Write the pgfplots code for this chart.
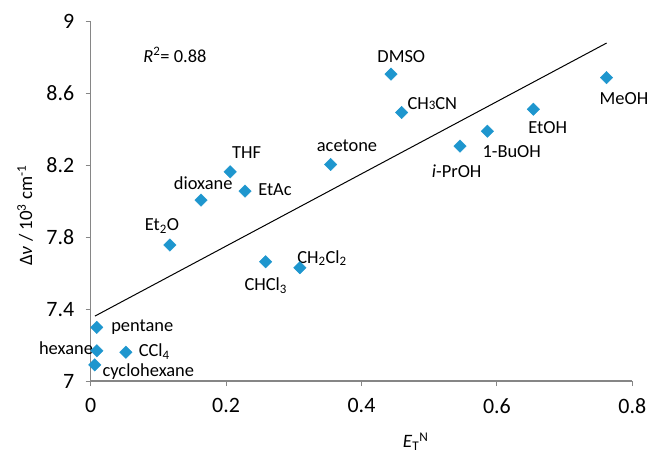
\documentclass[border=0pt]{standalone}
\usepackage{fontspec}
\setmainfont{Carlito}
\usepackage{pgfplots}
\pgfplotsset{compat=1.18}
\definecolor{mk}{HTML}{1E96CE}
\definecolor{axc}{HTML}{868686}
\newcommand{\lbl}{\fontsize{18.5}{20}\selectfont}
\begin{document}
\begin{tikzpicture}
\begin{axis}[
  scale only axis, width=541.6bp, height=359.7bp,
  xmin=0, xmax=0.8, ymin=7, ymax=9,
  xtick={0,0.2,0.4,0.6,0.8}, xticklabels={0,0.2,0.4,0.6,0.8},
  ytick={7,7.4,7.8,8.2,8.6,9}, yticklabels={7,7.4,7.8,8.2,8.6,9},
  axis x line*=bottom, axis y line*=left,
  axis line style={axc, line width=1.3bp},
  tick style={axc, line width=1bp},
  tick align=outside, major tick length=5bp,
  ticklabel style={font=\fontsize{22}{24}\selectfont},
  xticklabel style={yshift=-9bp},
  yticklabel style={xshift=-8bp},
  clip=false,
  ylabel={\fontsize{19}{21}\selectfont Δ\textit{ν} / 10\textsuperscript{3} cm\textsuperscript{-1}},
  ylabel style={at={(axis description cs:-0.121,0.46)}, anchor=center},
]
\addplot[black, line width=1bp] coordinates {(0.0063,7.361) (0.762,8.879)};
\addplot[only marks, mark=square*, mark size=4.4bp, mark options={rotate=45, fill=mk, draw=mk}] coordinates {
(0.0089,7.298) (0.009,7.168) (0.006,7.090) (0.052,7.160)
(0.117,7.756) (0.2585,7.663) (0.309,7.630) (0.163,8.006)
(0.206,8.163) (0.228,8.056) (0.3545,8.204) (0.4436,8.706)
(0.4594,8.493) (0.5455,8.306) (0.586,8.389) (0.654,8.511)
(0.762,8.687)};
\node[font=\lbl] at (axis cs:0.4588,8.803) {DMSO};
\node[font=\lbl] at (axis cs:0.5046,8.544) {CH{\fontsize{13}{13}\selectfont 3}CN};
\node[font=\lbl] at (axis cs:0.3786,8.307) {acetone};
\node[font=\lbl] at (axis cs:0.5406,8.169) {\textit{i}-PrOH};
\node[font=\lbl] at (axis cs:0.6219,8.275) {1-BuOH};
\node[font=\lbl] at (axis cs:0.675,8.411) {EtOH};
\node[font=\lbl] at (axis cs:0.7877,8.572) {MeOH};
\node[font=\lbl] at (axis cs:0.2304,8.269) {THF};
\node[font=\lbl] at (axis cs:0.1663,8.099) {dioxane};
\node[font=\lbl] at (axis cs:0.2722,8.062) {EtAc};
\node[font=\lbl] at (axis cs:0.1053,7.862) {Et\textsubscript{2}O};
\node[font=\lbl] at (axis cs:0.2585,7.530) {CHCl\textsubscript{3}};
\node[font=\lbl] at (axis cs:0.3417,7.684) {CH\textsubscript{2}Cl\textsubscript{2}};
\node[font=\lbl] at (axis cs:0.0762,7.302) {pentane};
\node[font=\lbl] at (axis cs:-0.0365,7.182) {hexane};
\node[font=\lbl] at (axis cs:0.0939,7.164) {CCl\textsubscript{4}};
\node[font=\lbl] at (axis cs:0.0851,7.052) {cyclohexane};
\node[font=\lbl] at (axis cs:0.1245,8.813) {\textit{R}\textsuperscript{2}= 0.88};
\node[font=\fontsize{19}{21}\selectfont] at (axis cs:0.48,6.662) {\textit{E}\textsubscript{T}\textsuperscript{N}};
\coordinate (bl) at (rel axis cs:0,0);
\coordinate (tr) at (rel axis cs:1,1);
\end{axis}
\pgfresetboundingbox
\path[use as bounding box] ([shift={(-90.7bp,-76bp)}]bl) rectangle ([shift={(18.7bp,21.3bp)}]tr);
\end{tikzpicture}
\end{document}
